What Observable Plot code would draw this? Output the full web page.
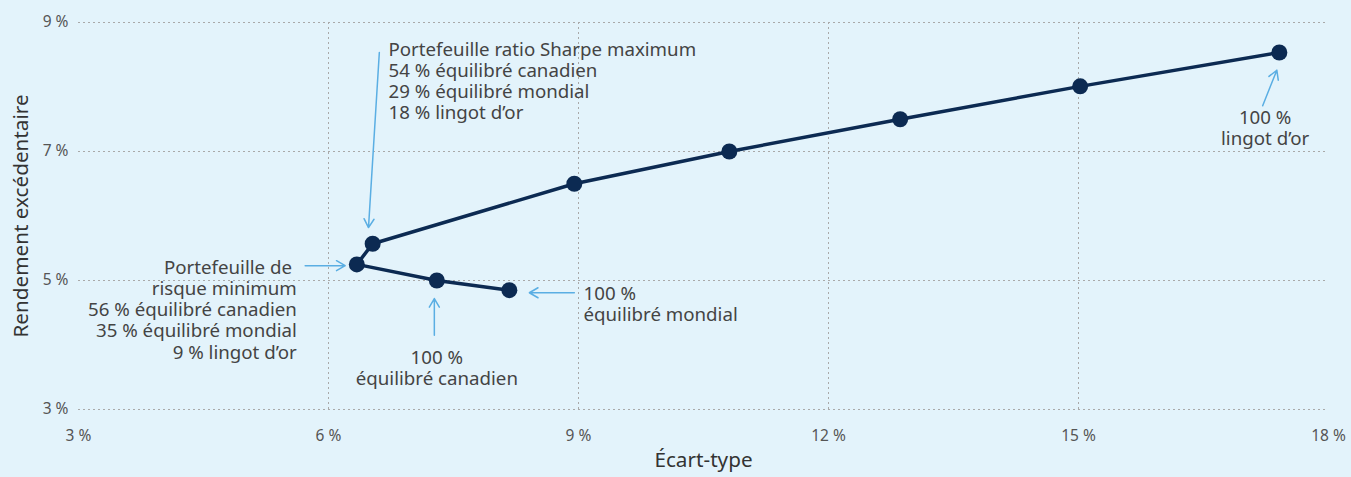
<!DOCTYPE html>
<html>
<head>
<meta charset="utf-8">
<script src="https://cdn.jsdelivr.net/npm/d3@7"></script>
<script src="https://cdn.jsdelivr.net/npm/@observablehq/plot@0.6"></script>
<style>
  html, body { margin: 0; padding: 0; background: #e3f3fb; }
  #chart { width: 1351px; height: 477px; }
  svg { font-family: "Noto Sans", "Open Sans", sans-serif; }
</style>
</head>
<body>
<div id="chart"></div>
<script>
// Data (path order along the efficient frontier)
const ecartType = [8.17, 7.30, 6.34, 6.53, 8.95, 10.81, 12.86, 15.02, 17.41];
const rendement = [4.85, 5.00, 5.25, 5.57, 6.50, 7.00, 7.50, 8.01, 8.535];

const xTicks = [3, 6, 9, 12, 15, 18];
const yTicks = [3, 5, 7, 9];
const xGrid = [6, 9, 12, 15];

const annotationTexts = [
  "Portefeuille ratio Sharpe maximum\n54 % équilibré canadien\n29 % équilibré mondial\n18 % lingot d’or",
  "Portefeuille de \nrisque minimum\n56 % équilibré canadien\n35 % équilibré mondial\n9 % lingot d’or",
  "100 %\néquilibré canadien",
  "100 %\néquilibré mondial",
  "100 %\nlingot d’or"
];
const annotationX = [6.72, 5.62, 7.30, 9.06, 17.24];
const annotationY = [8.10, 4.55, 3.65, 4.64, 7.37];
const annotationAnchor = ["start", "end", "middle", "start", "middle"];

const arrowX1 = [6.61, 5.72, 7.27, 8.95, 17.21];
const arrowY1 = [8.535, 5.23, 4.15, 4.81, 7.71];
const arrowX2 = [6.48, 6.20, 7.27, 8.41, 17.38];
const arrowY2 = [5.82, 5.23, 4.72, 4.81, 8.26];

const points = ecartType.map((x, i) => ({x, y: rendement[i]}));
const notes = annotationTexts.map((t, i) => ({t, x: annotationX[i], y: annotationY[i], a: annotationAnchor[i]}));
const arrows = arrowX1.map((x1, i) => ({x1, y1: arrowY1[i], x2: arrowX2[i], y2: arrowY2[i]}));

const pct = d => d + " %";
const noteMark = anchor => Plot.text(notes.filter(d => d.a === anchor), {
  x: "x", y: "y", text: "t", textAnchor: anchor, lineAnchor: "middle",
  fontSize: 18.7, lineHeight: 1.13, fill: "#444"
});

const chart = Plot.plot({
  width: 1351,
  height: 477,
  marginLeft: 78,
  marginRight: 23,
  marginTop: 22,
  marginBottom: 68,
  style: {background: "#e3f3fb", fontFamily: "Noto Sans, sans-serif"},
  x: {domain: [3, 18]},
  y: {domain: [3, 9]},
  marks: [
    Plot.ruleY(yTicks, {stroke: "#a9a9a9", strokeDasharray: "2,3", strokeWidth: 1}),
    Plot.ruleX(xGrid, {y1: 3, y2: 9, stroke: "#a9a9a9", strokeDasharray: "2,3", strokeWidth: 1}),
    Plot.axisX({ticks: xTicks, tickFormat: pct, tickSize: 0, tickPadding: 20, fontSize: 15.5, color: "#555", label: null}),
    Plot.axisY({ticks: yTicks, tickFormat: pct, tickSize: 0, tickPadding: 10, fontSize: 15.5, color: "#555", label: null}),
    Plot.text(["Rendement excédentaire"], {frameAnchor: "left", textAnchor: "middle", rotate: -90, dx: -57, fontSize: 20.7, fill: "#333"}),
    Plot.text(["Écart-type"], {frameAnchor: "bottom", textAnchor: "middle", dy: 57, fontSize: 20.7, fill: "#333"}),
    Plot.arrow(arrows, {x1: "x1", y1: "y1", x2: "x2", y2: "y2", stroke: "#5aaee3", strokeWidth: 1.5, headLength: 10, bend: 0}),
    Plot.line(points, {x: "x", y: "y", stroke: "#0c2a52", strokeWidth: 3.5, curve: "linear"}),
    Plot.dot(points, {x: "x", y: "y", r: 8, fill: "#0c2a52", stroke: "none"}),
    noteMark("start"),
    noteMark("end"),
    noteMark("middle")
  ]
});
document.getElementById("chart").appendChild(chart);
</script>
</body>
</html>
